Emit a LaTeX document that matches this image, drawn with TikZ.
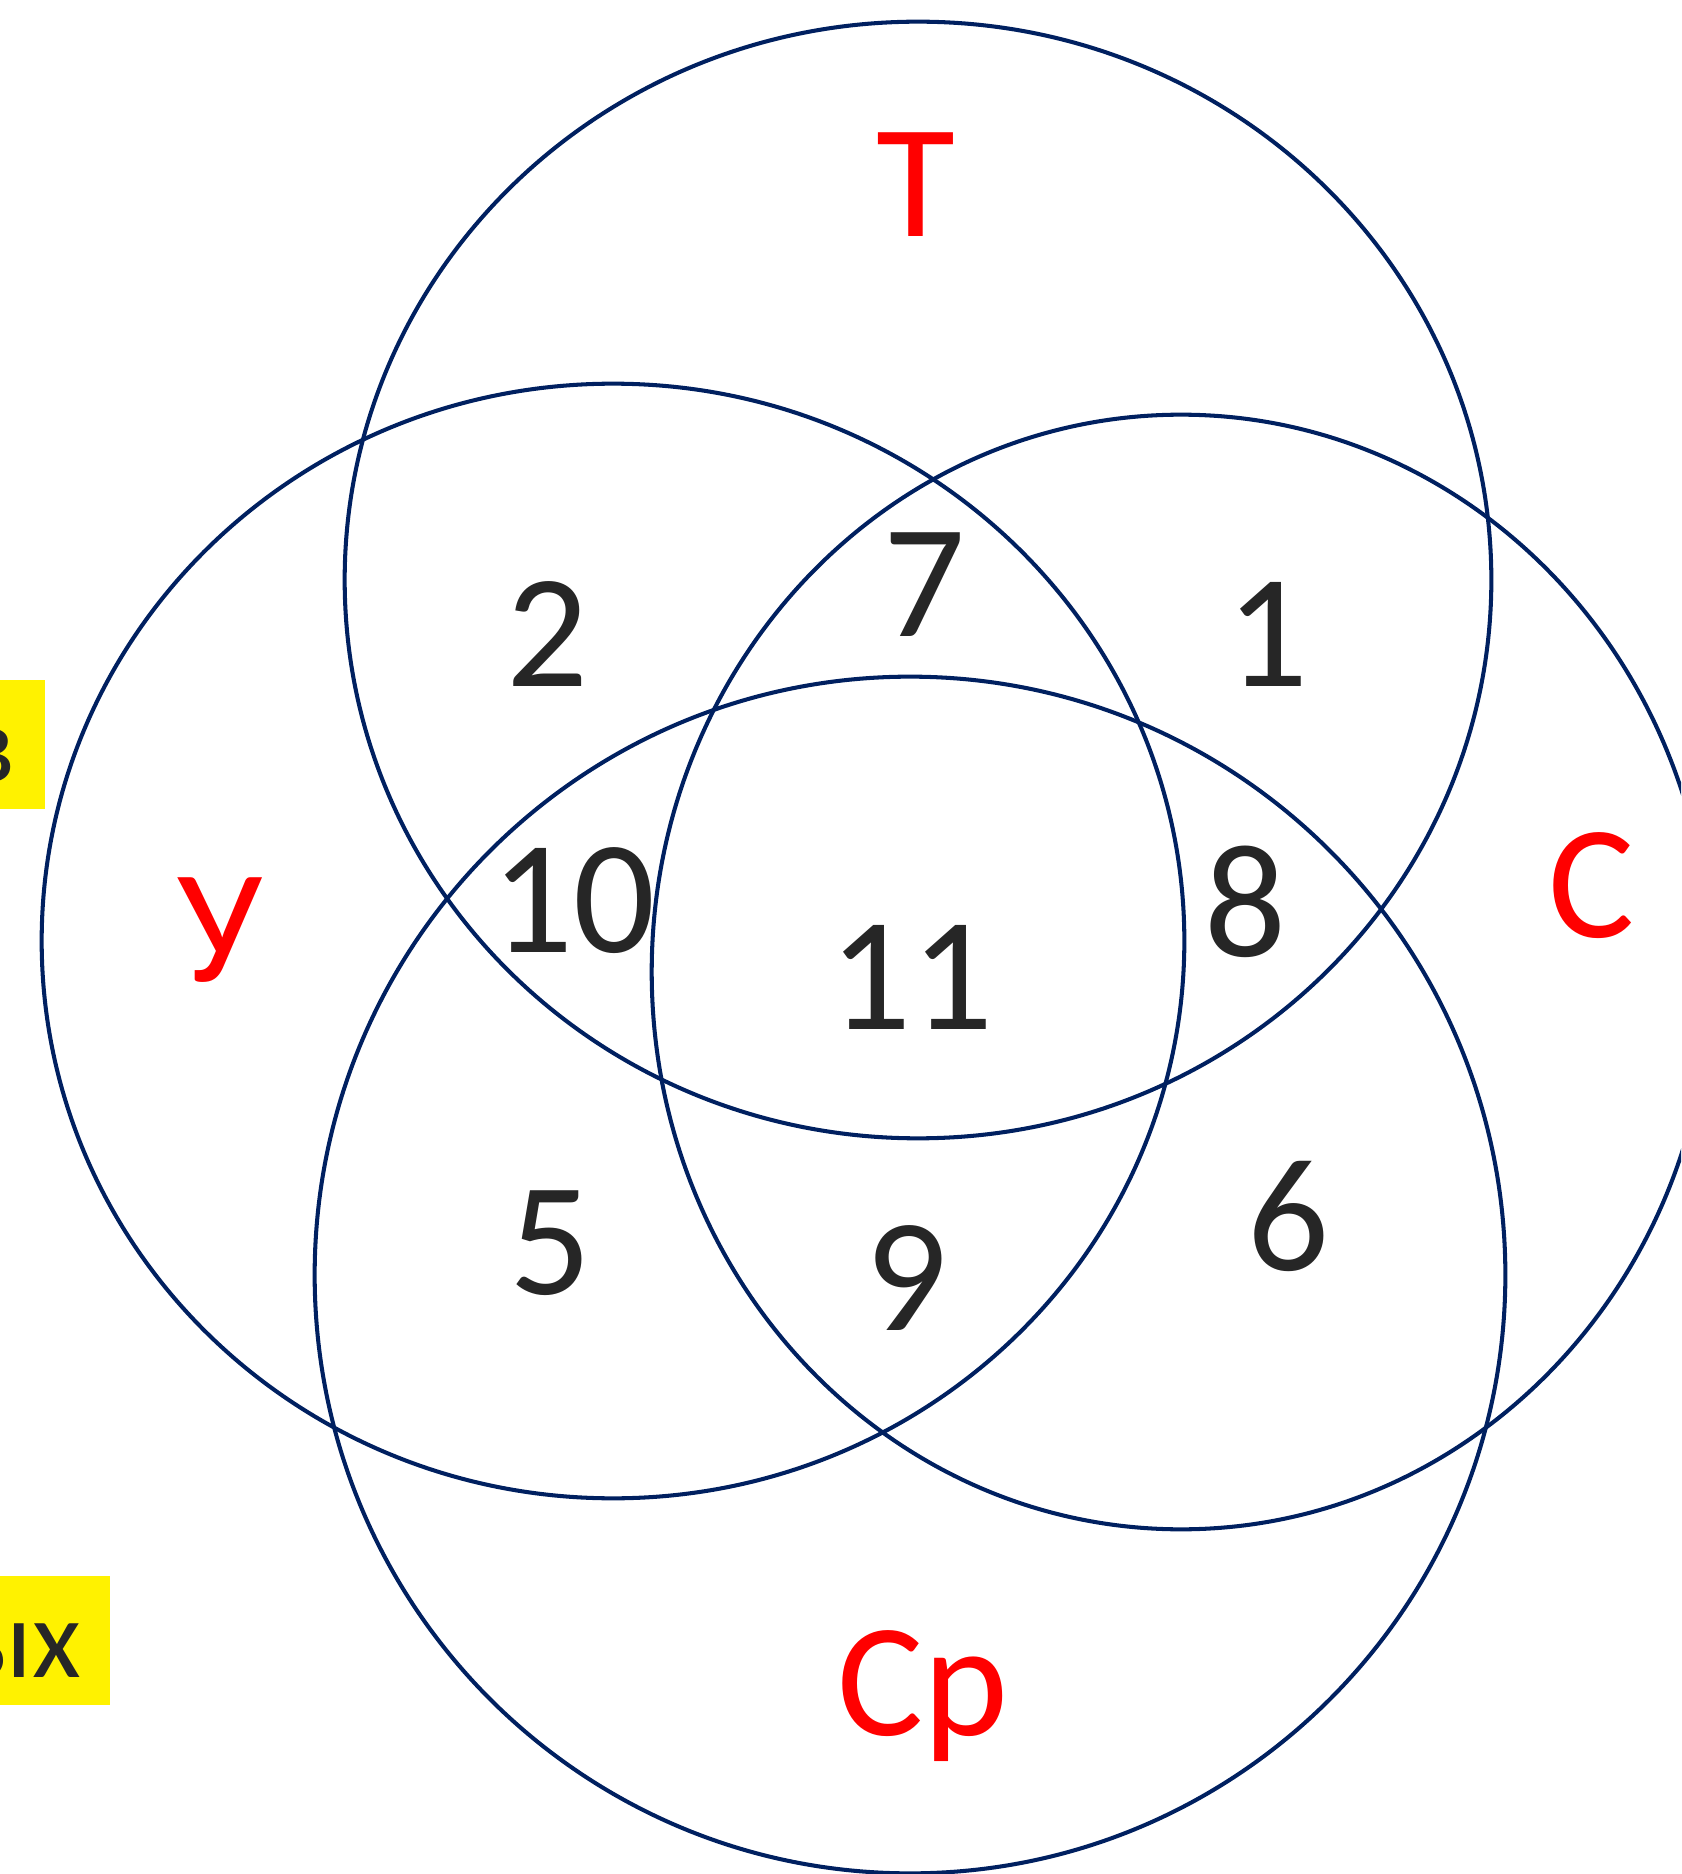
\documentclass[tikz,border=0pt]{standalone}
\usepackage{fontspec}
\setmainfont{Carlito}
\definecolor{navyline}{RGB}{0,32,96}
\definecolor{numgray}{RGB}{38,38,38}
\begin{document}
\begin{tikzpicture}[x=0.01cm,y=-0.01cm,
  ringline/.style={draw=navyline, line width=1.15pt},
  lab/.style={text=red, font=\fontsize{46}{50}\selectfont, inner sep=0pt, anchor=base},
  num/.style={text=numgray, font=\fontsize{46}{50}\selectfont, inner sep=0pt, anchor=base},
  notetext/.style={text=numgray, font=\fontsize{32}{36}\selectfont, inner sep=0pt, anchor=base east}]
\useasboundingbox (0,0) rectangle (1681,1874);
\clip (0,0) rectangle (1681,1874);
% yellow notes cut by the left edge
\fill[yellow] (0,680) rectangle (45,809);
\fill[yellow] (0,1576) rectangle (110,1705);
\node[notetext] (note1) at (16,782) {в};
\node[notetext] (note2) at (82,1677) {ых};
% circles
\draw[ringline] (918,580) ellipse [x radius=5.73cm, y radius=5.58cm];
\draw[ringline] (613,941) ellipse [x radius=5.71cm, y radius=5.57cm];
\draw[ringline] (1181,972) ellipse [x radius=5.29cm, y radius=5.57cm];
\draw[ringline] (910,1275) ellipse [x radius=5.95cm, y radius=5.98cm];
% set labels
\node[lab] (T) at (916,237) {Т};
\node[lab] (U) at (220,981) {У};
\node[lab] (S) at (1592,937) {С};
\node[lab] (Sr) at (923,1735) {Ср};
% numbers
\node[num] (n2) at (547,687) {2};
\node[num] (n7) at (924,637) {7};
\node[num] (n1) at (1267,687) {1};
\node[num] (n10) at (573,952) {10};
\node[num] (n11) at (911,1029) {11};
\node[num] (n8) at (1245,956) {8};
\node[num] (n5) at (550,1294) {5};
\node[num] (n9) at (906,1330) {9};
\node[num] (n6) at (1288,1270) {6};
\end{tikzpicture}
\end{document}
